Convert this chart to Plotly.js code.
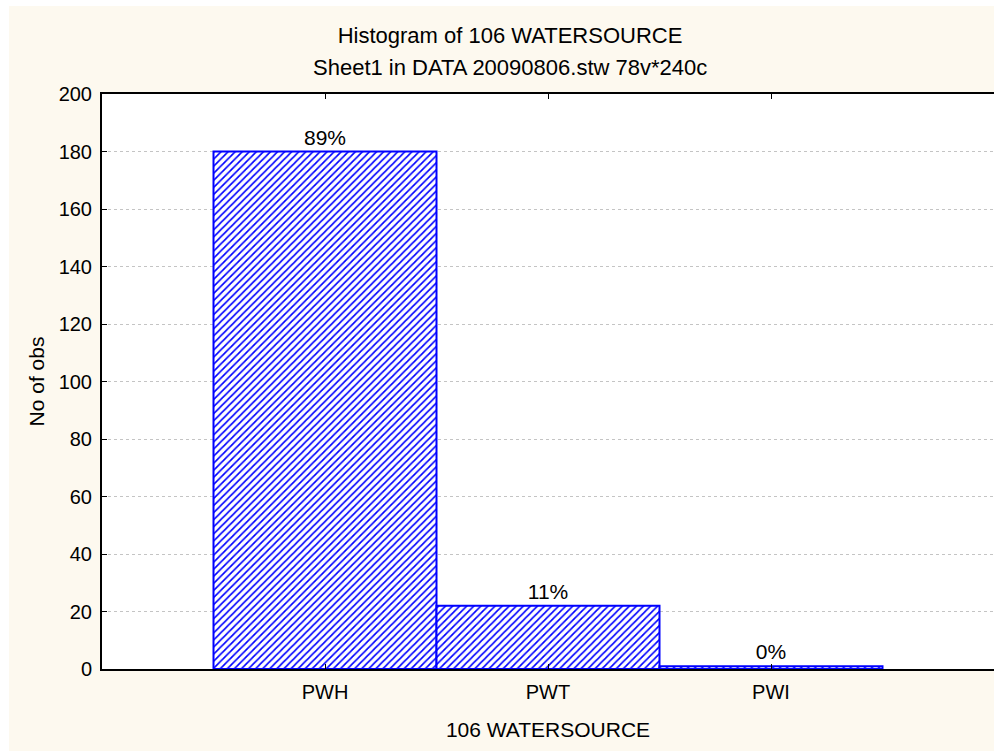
<!DOCTYPE html>
<html>
<head>
<meta charset="utf-8">
<script src="https://cdn.plot.ly/plotly-3.0.1.min.js"></script>
<style>
  html, body { margin:0; padding:0; background:#ffffff; overflow:hidden; width:994px; height:751px; }
  #chart { position:absolute; left:9px; top:6px; width:985px; height:745px; }
</style>
</head>
<body>
<div id="chart"></div>
<script>
const categories = ['PWH', 'PWT', 'PWI'];
const counts = [180, 22, 1];
const percentLabels = ['89%', '11%', '0%'];
const yTickValues = [0, 20, 40, 60, 80, 100, 120, 140, 160, 180, 200];
const titleLine1 = 'Histogram of 106 WATERSOURCE';
const titleLine2 = 'Sheet1 in DATA 20090806.stw 78v*240c';
const xTitle = '106 WATERSOURCE';
const yTitle = 'No of obs';

const FONT = 'Liberation Sans, Arial, sans-serif';
const BLUE = '#0000ff';

const trace = {
  type: 'bar',
  x: categories,
  y: counts,
  text: percentLabels,
  texttemplate: '%{text}',
  textposition: 'outside',
  cliponaxis: false,
  textfont: { family: FONT, size: 21, color: '#000000' },
  width: 1,
  marker: {
    color: '#ffffff',
    line: { color: BLUE, width: 2 },
    pattern: { shape: '/', fgcolor: BLUE, bgcolor: '#ffffff', size: 5, solidity: 0.33, fillmode: 'replace' }
  },
  hoverinfo: 'x+y'
};

const axisCommon = {
  showline: true,
  linecolor: '#000000',
  linewidth: 2,
  ticks: 'inside',
  ticklen: 5,
  tickwidth: 1,
  tickcolor: '#000000',
  zeroline: false,
  automargin: false,
  tickfont: { family: FONT, size: 20, color: '#000000' }
};

const layout = {
  width: 985,
  height: 745,
  margin: { l: 93, r: 0, t: 88, b: 82, pad: 0 },
  paper_bgcolor: '#fdf9ef',
  plot_bgcolor: '#ffffff',
  showlegend: false,
  bargap: 0,
  font: { family: FONT, size: 20, color: '#000000' },
  title: {
    text: titleLine1,
    font: { family: FONT, size: 22, color: '#000000' },
    xref: 'container', x: (510 - 9) / 985, xanchor: 'center',
    yref: 'container', y: 1 - 29 / 745, yanchor: 'middle'
  },
  annotations: [{
    text: titleLine2,
    xref: 'paper', x: (510 - 102) / 892, xanchor: 'center',
    yref: 'paper', y: 1 + 26 / 575, yanchor: 'middle',
    showarrow: false,
    font: { family: FONT, size: 22, color: '#000000' }
  }],
  xaxis: Object.assign({}, axisCommon, {
    type: 'category',
    range: [-1, 3],
    mirror: 'ticks',
    showgrid: false,
    ticklabelstandoff: 4,
    title: { text: xTitle, font: { family: FONT, size: 21, color: '#000000' }, standoff: 20 }
  }),
  yaxis: Object.assign({}, axisCommon, {
    range: [0, 200],
    tickvals: yTickValues,
    mirror: false,
    showgrid: true,
    gridcolor: '#c4c4c4',
    griddash: 'dot',
    gridwidth: 1,
    ticklabelstandoff: 4,
    title: { text: yTitle, font: { family: FONT, size: 21, color: '#000000' }, standoff: 8 }
  }),
  yaxis2: {
    overlaying: 'y',
    side: 'right',
    anchor: 'x',
    range: [0, 200],
    tickvals: yTickValues,
    showline: false,
    showgrid: false,
    zeroline: false,
    ticks: 'inside',
    ticklen: 5,
    tickwidth: 2,
    tickcolor: '#000000',
    showticklabels: false,
    automargin: false
  }
};

Plotly.newPlot('chart', [trace], layout, { displayModeBar: false, staticPlot: true });
</script>
</body>
</html>
